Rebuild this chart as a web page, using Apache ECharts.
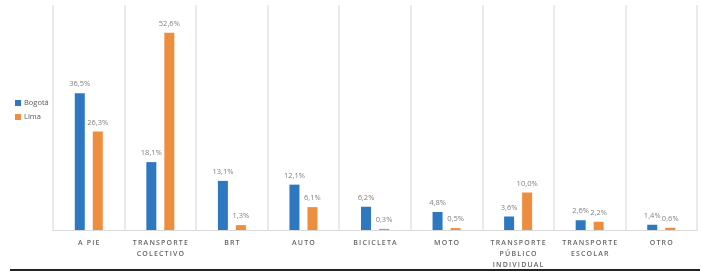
<!DOCTYPE html>
<html>
<head>
<meta charset="utf-8">
<script src="https://cdn.jsdelivr.net/npm/echarts@6/dist/echarts.min.js"></script>
<style>
  html, body { margin: 0; padding: 0; background: #fff; }
  #chart1 { width: 702px; height: 275px; }
</style>
</head>
<body>
<div id="chart1"></div>
<script>
var categories = ["A PIE", "TRANSPORTE\nCOLECTIVO", "BRT", "AUTO", "BICICLETA", "MOTO",
    "TRANSPORTE\nPÚBLICO\nINDIVIDUAL", "TRANSPORTE\nESCOLAR", "OTRO"];
var bogota = [36.5, 18.1, 13.1, 12.1, 6.2, 4.8, 3.6, 2.6, 1.4];
var lima = [26.3, 52.6, 1.3, 6.1, 0.3, 0.5, 10.0, 2.2, 0.6];
var seriesNames = ["Bogotá", "Lima"];

// spread letters like the original's tracked caps
function spaced(s) {
    return s.split("\n").map(function (line) {
        return line.split("").join("\u2009");
    }).join("\n");
}
function pct(p) {
    return p.value.toFixed(1).replace(".", ",") + "%";
}

var mychart = echarts.init(document.getElementById("chart1"));
var option = {
    color: ["#2e78c2", "#ed8d3d"],
    animation: false,
    textStyle: { fontFamily: "Open Sans" },
    legend: {
        data: seriesNames,
        orient: "vertical",
        left: 10,
        top: 94,
        itemWidth: 6,
        itemHeight: 6,
        itemGap: 6,
        icon: "rect",
        textStyle: { color: "#595959", fontSize: 7.5, padding: [0, 0, 0, -2] }
    },
    grid: { left: 53, right: 5, top: 5, bottom: 45 },
    xAxis: {
        type: "category",
        data: categories,
        axisTick: { show: false },
        axisLine: { lineStyle: { color: "#d9d9d9", width: 1 } },
        splitLine: { show: true, lineStyle: { color: "#e3e3e3", width: 1.5 } },
        axisLabel: {
            color: "#666",
            fontSize: 7,
            fontWeight: 600,
            lineHeight: 11,
            margin: 7,
            interval: 0,
            formatter: spaced
        }
    },
    yAxis: {
        type: "value",
        min: 0,
        max: 60,
        show: false
    },
    series: [
        {
            name: seriesNames[0],
            type: "bar",
            data: bogota,
            barWidth: 10,
            barGap: "80%",
            label: { show: true, position: "top", distance: 5, fontSize: 7.5, color: "#7f7f7f", formatter: pct }
        },
        {
            name: seriesNames[1],
            type: "bar",
            data: lima,
            barWidth: 10,
            barGap: "80%",
            label: { show: true, position: "top", distance: 5, fontSize: 7.5, color: "#7f7f7f", formatter: pct }
        }
    ],
    graphic: [
        {
            type: "line",
            shape: { x1: 10, y1: 270, x2: 700, y2: 270 },
            style: { stroke: "#222", lineWidth: 2 }
        }
    ]
};
mychart.setOption(option);
</script>
</body>
</html>
